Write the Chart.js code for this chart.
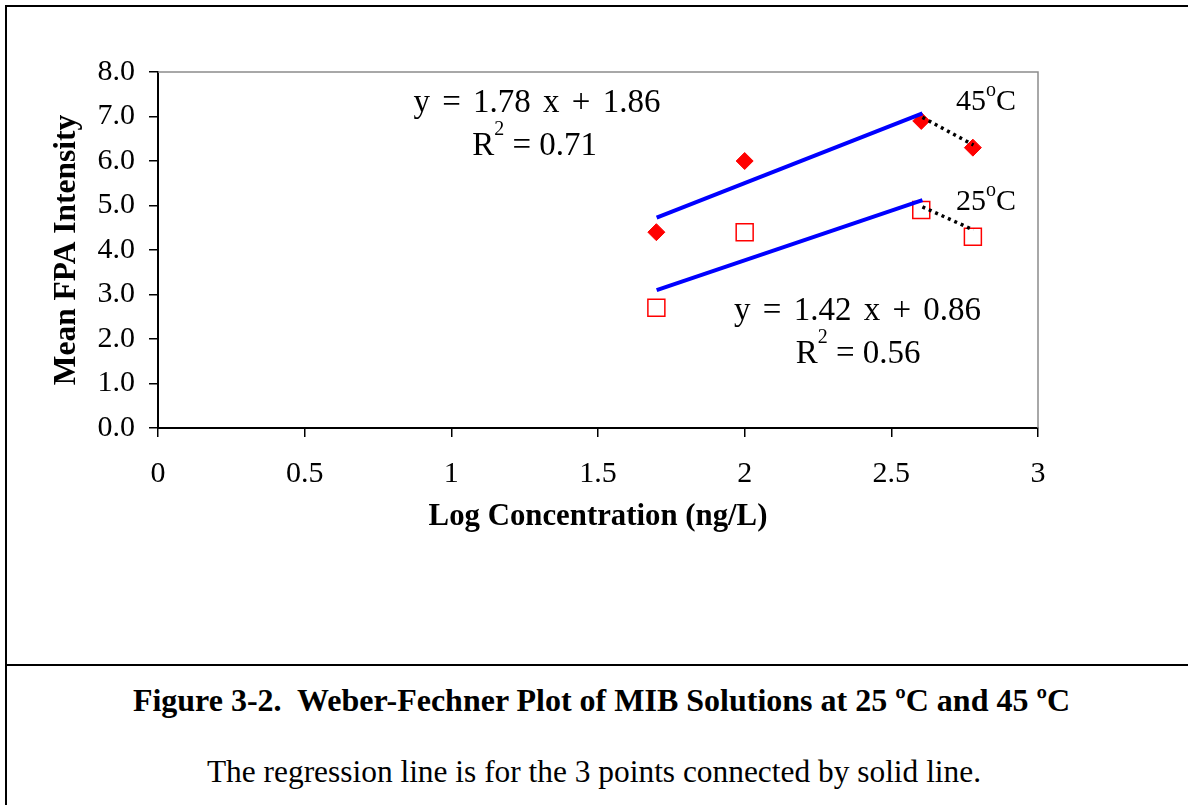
<!DOCTYPE html>
<html>
<head>
<meta charset="utf-8">
<script src="https://cdn.jsdelivr.net/npm/chart.js@4.4.1/dist/chart.umd.min.js"></script>
<style>
html,body{margin:0;padding:0;background:#fff;width:1188px;height:805px;overflow:hidden;}
#frame{position:absolute;left:5px;top:5px;width:1300px;height:900px;border-left:2px solid #000;border-top:2px solid #000;}
#divider{position:absolute;left:5px;top:664px;width:1300px;height:2px;background:#000;}
#wrap{position:absolute;left:0;top:0;width:1188px;height:665px;}
.cap{position:absolute;left:0;text-align:center;font-family:"Liberation Serif","Times New Roman",serif;line-height:36px;color:#000;white-space:nowrap;}
#cap1{top:682px;width:1203px;font-size:32px;font-weight:bold;}
#cap2{top:754px;width:1188px;font-size:31.4px;}
</style>
</head>
<body>
<div id="frame"></div>
<div id="divider"></div>
<div id="wrap"><canvas id="c" width="1188" height="665"></canvas></div>
<div class="cap" id="cap1">Figure 3-2.&nbsp; Weber-Fechner Plot of MIB Solutions at 25 ºC and 45 ºC</div>
<div class="cap" id="cap2">The regression line is for the 3 points connected by solid line.</div>
<script>
// ---- data ----
const logConc = [1.699, 2.0, 2.602, 2.778];
const fpa45 = [4.4, 6.0, 6.9, 6.3];
const fpa25 = [2.7, 4.4, 4.9, 4.3];
const fitX = [1.70, 2.606];
const fit45 = [4.73, 7.07];
const fit25 = [3.10, 5.12];
const dotX = [2.606, 2.78];
const dot45 = [6.98, 6.36];
const dot25 = [4.97, 4.45];
const xTickValues = [0, 0.5, 1, 1.5, 2, 2.5, 3];
const xTickLabels = ['0', '0.5', '1', '1.5', '2', '2.5', '3'];
const yTickValues = [0, 1, 2, 3, 4, 5, 6, 7, 8];
const yTickLabels = ['0.0', '1.0', '2.0', '3.0', '4.0', '5.0', '6.0', '7.0', '8.0'];
const eqTexts = ['y = 1.78 x + 1.86', 'y = 1.42 x + 0.86'];
const r2Texts = [' = 0.71', ' = 0.56'];
const tempTexts = ['45', '25'];

const pts = (xs, ys) => xs.map((x, i) => ({x: x, y: ys[i]}));
const SERIF = '"Liberation Serif", "Times New Roman", serif';

const framePlugin = {
  id: 'frame',
  beforeDatasetsDraw(chart) {
    const {ctx, chartArea: a} = chart;
    ctx.save();
    ctx.strokeStyle = '#8c8c8c';
    ctx.lineWidth = 1.5;
    ctx.beginPath();
    ctx.moveTo(a.left, a.top);
    ctx.lineTo(a.right, a.top);
    ctx.lineTo(a.right, a.bottom);
    ctx.stroke();
    ctx.restore();
  }
};

function drawRich(ctx, parts, cx, by) {
  // parts: [text, size, raise]
  let total = 0;
  parts.forEach(p => { ctx.font = p[1] + 'px ' + SERIF; total += ctx.measureText(p[0]).width; });
  let x = cx - total / 2;
  parts.forEach(p => {
    ctx.font = p[1] + 'px ' + SERIF;
    ctx.fillText(p[0], x, by - p[2]);
    x += ctx.measureText(p[0]).width;
  });
}

const textPlugin = {
  id: 'texts',
  afterDatasetsDraw(chart) {
    const {ctx} = chart;
    const xs = chart.scales.x, ys = chart.scales.y;
    const P = (x, y) => [xs.getPixelForValue(x), ys.getPixelForValue(y)];
    ctx.save();
    ctx.fillStyle = '#000';
    ctx.textAlign = 'left';
    ctx.textBaseline = 'alphabetic';
    ctx.wordSpacing = '4px';
    let p = P(1.292, 7.101);
    drawRich(ctx, [[eqTexts[0], 33, 0]], p[0], p[1]);
    p = P(2.385, 2.427);
    drawRich(ctx, [[eqTexts[1], 33, 0]], p[0], p[1]);
    ctx.wordSpacing = '11px';
    p = P(1.284, 6.135);
    drawRich(ctx, [['R', 33, 0], ['2', 20, 20], [r2Texts[0], 33, 0]], p[0], p[1]);
    p = P(2.387, 1.461);
    drawRich(ctx, [['R', 33, 0], ['2', 20, 20], [r2Texts[1], 33, 0]], p[0], p[1]);
    ctx.wordSpacing = '0px';
    p = P(2.823, 7.146);
    drawRich(ctx, [[tempTexts[0], 30, 0], ['o', 20, 14], ['C', 30, 0]], p[0], p[1]);
    p = P(2.823, 4.899);
    drawRich(ctx, [[tempTexts[1], 30, 0], ['o', 20, 14], ['C', 30, 0]], p[0], p[1]);
    ctx.restore();
  }
};

new Chart(document.getElementById('c'), {
  type: 'scatter',
  data: {
    datasets: [
      {label: 'fit45', data: pts(fitX, fit45), showLine: true, borderColor: '#0000ff', borderWidth: 4, pointRadius: 0, order: 0},
      {label: 'fit25', data: pts(fitX, fit25), showLine: true, borderColor: '#0000ff', borderWidth: 4, pointRadius: 0, order: 0},
      {label: 'dot45', data: pts(dotX, dot45), showLine: true, borderColor: '#000', borderWidth: 3.5, borderDash: [3, 4], pointRadius: 0, order: 0},
      {label: 'dot25', data: pts(dotX, dot25), showLine: true, borderColor: '#000', borderWidth: 3.5, borderDash: [3, 4], pointRadius: 0, order: 0},
      {label: '45 °C', data: pts(logConc, fpa45), pointStyle: 'rectRot', pointRadius: 8.5, backgroundColor: '#ff0000', borderColor: '#ff0000', borderWidth: 1, order: 1},
      {label: '25 °C', data: pts(logConc, fpa25), pointStyle: 'rect', pointRadius: 12, backgroundColor: '#ffffff', borderColor: '#ff0000', borderWidth: 1.5, order: 1}
    ]
  },
  options: {
    responsive: false,
    animation: false,
    events: [],
    layout: {padding: {left: 0, right: 150, top: 72, bottom: 127}},
    plugins: {legend: {display: false}, tooltip: {enabled: false}},
    scales: {
      x: {
        type: 'linear', min: 0, max: 3,
        afterFit: s => { s.height = 110; },
        afterBuildTicks: s => { s.ticks = xTickValues.map(v => ({value: v})); },
        grid: {drawOnChartArea: false, drawTicks: true, tickLength: 9, color: '#000', lineWidth: 1.5},
        border: {display: true, color: '#000', width: 2},
        ticks: {autoSkip: false, maxRotation: 0, padding: 19, color: '#000',
          font: {family: SERIF, size: 30}, callback: (v, i) => xTickLabels[i]},
        title: {display: true, text: 'Log Concentration (ng/L)', color: '#000',
          font: {family: SERIF, size: 30.8, weight: 'bold'}, padding: {top: 0, bottom: 2}}
      },
      y: {
        type: 'linear', min: 0, max: 8,
        afterFit: s => { s.width = 158; },
        afterBuildTicks: s => { s.ticks = yTickValues.map(v => ({value: v})); },
        grid: {drawOnChartArea: false, drawTicks: true, tickLength: 9, color: '#000', lineWidth: 1.5},
        border: {display: true, color: '#000', width: 2},
        ticks: {autoSkip: false, padding: 14, color: '#000',
          font: {family: SERIF, size: 30}, callback: (v, i) => yTickLabels[i]},
        title: {display: true, text: 'Mean FPA Intensity', color: '#000',
          font: {family: SERIF, size: 31.5, weight: 'bold'}, padding: {top: 48, bottom: 0}}
      }
    }
  },
  plugins: [framePlugin, textPlugin]
});
</script>
</body>
</html>
